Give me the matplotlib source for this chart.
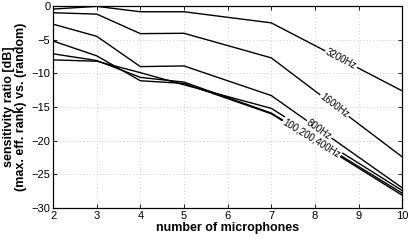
import numpy as np
import matplotlib
matplotlib.use("Agg")
import matplotlib.pyplot as plt

plt.rcParams['font.family'] = ['Liberation Sans', 'DejaVu Sans']

mics = [2, 3, 4, 5, 7, 10]
s3200 = [-0.45, -0.05, -0.85, -0.85, -2.5, -12.6]
s1600 = [-1.0, -1.2, -4.1, -4.05, -7.7, -22.4]
s800 = [-2.7, -4.5, -9.0, -8.9, -13.3, -27.0]
s_low_a = [-5.2, -7.4, -11.1, -11.5, -16.0, -28.1]
s_low_b = [-7.1, -8.1, -10.6, -11.3, -15.9, -27.8]
s_low_c = [-8.0, -8.2, -9.9, -11.7, -15.2, -27.4]

series = [s3200, s1600, s800, s_low_a, s_low_b, s_low_c]
labels = [("3200Hz", s3200, 8.6), ("1600Hz", s1600, 8.45),
          ("800Hz", s800, 8.1), ("100,200,400Hz", s_low_b, 7.93)]

fig = plt.figure(figsize=(4.15, 2.41), dpi=100)
ax = fig.add_axes([0.128, 0.137, 0.841, 0.838])

for s in series:
    ax.plot(mics, s, color='black', lw=1.0, zorder=2)

ax.set_xlim(2, 10)
ax.set_ylim(-30, 0)
ax.set_xticks(range(2, 11))
ax.set_yticks(range(-30, 1, 5))
ax.grid(True, linestyle=(0, (1, 3)), color='#b8b8b8', lw=0.6)
ax.tick_params(direction='in', top=True, right=True, labelsize=8, length=3, width=0.6, pad=2)
for sp in ax.spines.values():
    sp.set_linewidth(0.9)

for text, s, xl in labels:
    x0, x1 = mics[-2], mics[-1]
    y0, y1 = s[-2], s[-1]
    yl = y0 + (y1 - y0) * (xl - x0) / (x1 - x0)
    ang = np.degrees(np.arctan2(y1 - y0, x1 - x0))
    t = ax.text(xl, yl, text, fontsize=7, ha='center', va='center', rotation=ang,
                transform_rotates_text=True, rotation_mode='anchor', zorder=3,
                bbox=dict(facecolor='white', edgecolor='none', pad=0.8))

ax.set_xlabel("number of microphones", fontsize=9, fontweight='bold', labelpad=1)
ax.set_ylabel("sensitivity ratio [dB]\n(max. eff. rank) vs. (random)", fontsize=9,
              fontweight='bold', labelpad=3, linespacing=1.0)

fig.savefig("out.png", dpi=100)
